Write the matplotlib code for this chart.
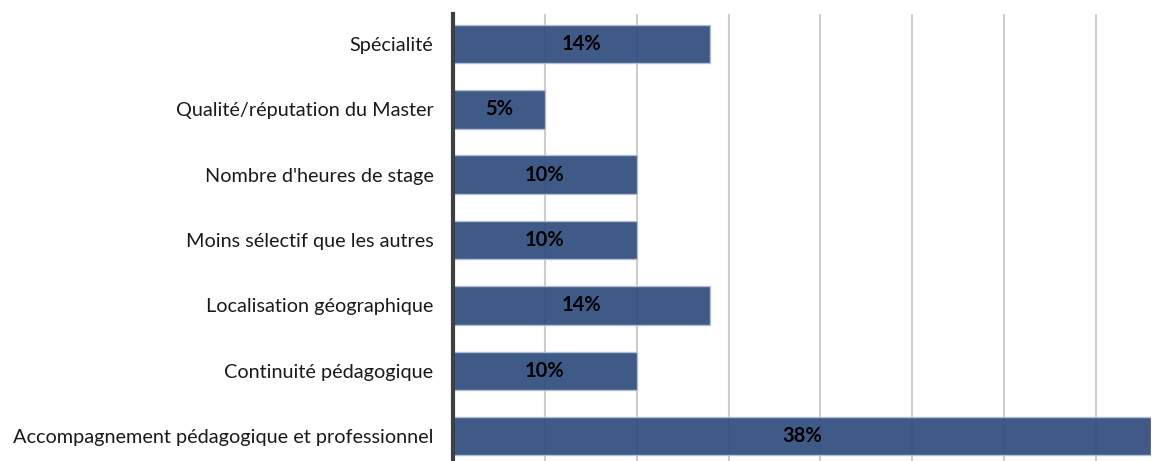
import matplotlib
matplotlib.use("Agg")
import matplotlib.pyplot as plt

# Raisons du choix du Master (part des répondants, en %)
categories = [
    "Accompagnement pédagogique et professionnel",
    "Continuité pédagogique",
    "Localisation géographique",
    "Moins sélectif que les autres",
    "Nombre d'heures de stage",
    "Qualité/réputation du Master",
    "Spécialité",
]
values = [38, 10, 14, 10, 10, 5, 14]

plt.rcParams['font.family'] = ['Lato', 'DejaVu Sans']

W, H = 1176, 461
fig = plt.figure(figsize=(W / 100, H / 100), dpi=100)
ax = fig.add_axes([453 / W, 0, (1151 - 453) / W, (461 - 14) / H])

ypos = list(range(len(categories)))
ax.barh(ypos, values, height=0.59, color='#2F4C7E', alpha=0.92,
        edgecolor='#B4C0D6', linewidth=1.0, zorder=3)

for y, v in zip(ypos, values):
    ax.text(v / 2, y, f"{v}%", ha='center', va='center',
            fontsize=14.5, fontweight='bold', color='black', zorder=4)

ax.set_xlim(0, 38)
ax.set_ylim(-0.38, 6.46)
ax.set_xticks(range(5, 38, 5))
ax.set_xticklabels([])
ax.tick_params(axis='x', length=0)
ax.grid(axis='x', color='#CDCDCD', linewidth=1.5, zorder=0)

ax.set_yticks(ypos)
ax.set_yticklabels(categories, fontsize=14.3, color='#1a1a1a')
ax.tick_params(axis='y', length=0, pad=14)

for side in ['top', 'right', 'bottom']:
    ax.spines[side].set_visible(False)
ax.spines['left'].set_color('#404040')
ax.spines['left'].set_linewidth(3)
ax.spines['left'].set_zorder(5)

fig.savefig("out.png", dpi=100, facecolor='white')
